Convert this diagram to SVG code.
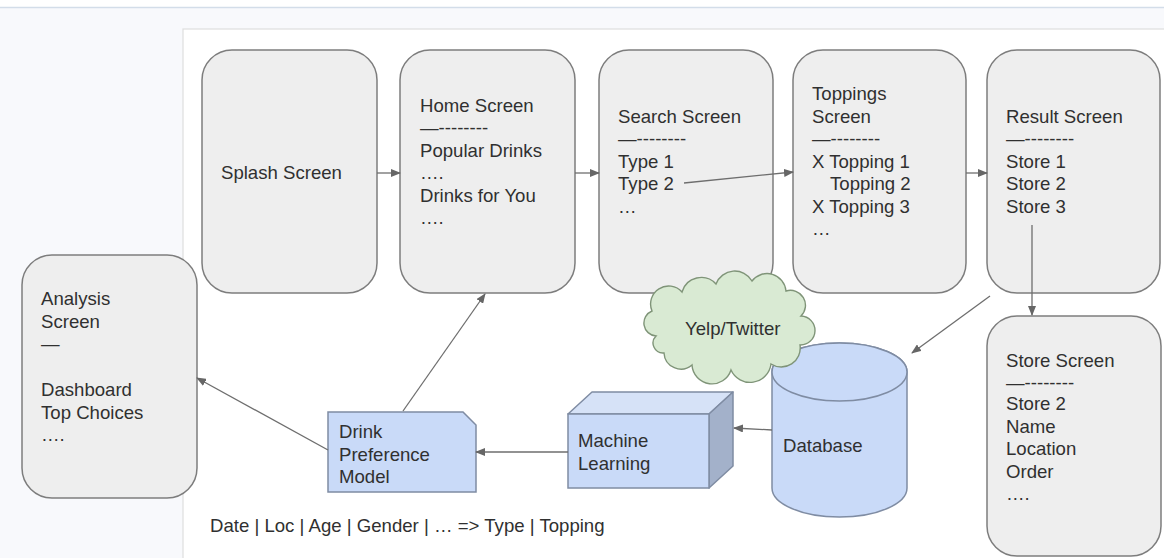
<svg xmlns="http://www.w3.org/2000/svg" width="1164" height="558" viewBox="0 0 1164 558">
  <style>
    .t { font-family: "Liberation Sans", Arial, sans-serif; font-size: 18.6px; fill: #303030; }
    .screen { fill: #eeeeee; stroke: #7d7d7d; stroke-width: 1.5; }
    .blue { fill: #c9daf8; stroke: #7f8ca3; stroke-width: 1.5; }
    .edge { fill: none; stroke: #6e6e6e; stroke-width: 1.3; marker-end: url(#arrow); }
  </style>
  <defs>
    <marker id="arrow" viewBox="0 0 10 8" refX="9" refY="4" markerWidth="10" markerHeight="8" markerUnits="userSpaceOnUse" orient="auto">
      <path d="M0,0 L10,4 L0,8 Z" fill="#666666"/>
    </marker>
  </defs>

  <!-- page background and canvas -->
  <rect x="0" y="0" width="1164" height="558" fill="#f8f9fc"/>
  <rect x="0" y="0" width="1164" height="7" fill="#ffffff"/>
  <line x1="0" y1="7.5" x2="1164" y2="7.5" stroke="#d3dde9" stroke-width="1.5"/>
  <rect x="183" y="29" width="990" height="540" fill="#ffffff" stroke="#dedede" stroke-width="1.2"/>

  <!-- screens -->
  <g id="splash">
    <rect class="screen" x="202" y="50" width="175" height="243" rx="30"/>
    <text class="t" x="221" y="179">Splash Screen</text>
  </g>
  <g id="home">
    <rect class="screen" x="400" y="50" width="175" height="243" rx="30"/>
    <text class="t" x="420" y="112">Home Screen</text>
    <text class="t" x="420" y="134">—--------</text>
    <text class="t" x="420" y="157">Popular Drinks</text>
    <text class="t" x="420" y="179">….</text>
    <text class="t" x="420" y="202">Drinks for You</text>
    <text class="t" x="420" y="224">….</text>
  </g>
  <g id="search">
    <rect class="screen" x="599" y="50" width="174" height="243" rx="30"/>
    <text class="t" x="618" y="123">Search Screen</text>
    <text class="t" x="618" y="145">—--------</text>
    <text class="t" x="618" y="168">Type 1</text>
    <text class="t" x="618" y="190">Type 2</text>
    <text class="t" x="618" y="213">…</text>
  </g>
  <g id="toppings">
    <rect class="screen" x="793" y="50" width="173" height="243" rx="30"/>
    <text class="t" x="812" y="100">Toppings</text>
    <text class="t" x="812" y="123">Screen</text>
    <text class="t" x="812" y="145">—--------</text>
    <text class="t" x="812" y="168">X Topping 1</text>
    <text class="t" x="830" y="190">Topping 2</text>
    <text class="t" x="812" y="213">X Topping 3</text>
    <text class="t" x="812" y="235">…</text>
  </g>
  <g id="result">
    <rect class="screen" x="987" y="50" width="173" height="243" rx="30"/>
    <text class="t" x="1006" y="123">Result Screen</text>
    <text class="t" x="1006" y="145">—--------</text>
    <text class="t" x="1006" y="168">Store 1</text>
    <text class="t" x="1006" y="190">Store 2</text>
    <text class="t" x="1006" y="213">Store 3</text>
  </g>
  <g id="store">
    <rect class="screen" x="987" y="316" width="174" height="240" rx="30"/>
    <text class="t" x="1006" y="367">Store Screen</text>
    <text class="t" x="1006" y="389">—--------</text>
    <text class="t" x="1006" y="410">Store 2</text>
    <text class="t" x="1006" y="433">Name</text>
    <text class="t" x="1006" y="455">Location</text>
    <text class="t" x="1006" y="478">Order</text>
    <text class="t" x="1006" y="500">….</text>
  </g>
  <g id="analysis">
    <rect class="screen" x="22" y="255" width="175" height="243" rx="30"/>
    <text class="t" x="41" y="305">Analysis</text>
    <text class="t" x="41" y="328">Screen</text>
    <text class="t" x="41" y="350">—</text>
    <text class="t" x="41" y="396">Dashboard</text>
    <text class="t" x="41" y="419">Top Choices</text>
    <text class="t" x="41" y="441">….</text>
  </g>

  <!-- data and model -->
  <g id="model">
    <path class="blue" d="M328,412 L463,412 L476,425 L476,492 L328,492 Z"/>
    <text class="t" x="339" y="438">Drink</text>
    <text class="t" x="339" y="461">Preference</text>
    <text class="t" x="339" y="483">Model</text>
  </g>
  <g id="ml">
    <path d="M568,414 L592,392 L733,392 L709,414 Z" fill="#d6e2f7" stroke="#7f8ca3" stroke-width="1.5" stroke-linejoin="round"/>
    <path d="M709,414 L733,392 L733,466 L709,488 Z" fill="#a3b1ca" stroke="#7f8ca3" stroke-width="1.5" stroke-linejoin="round"/>
    <rect class="blue" x="568" y="414" width="141" height="74"/>
    <text class="t" x="578" y="447">Machine</text>
    <text class="t" x="578" y="470">Learning</text>
  </g>
  <g id="database">
    <path class="blue" d="M772,372 L772,488 A67.5,29 0 0 0 907,488 L907,372 A67.5,29 0 0 0 772,372 Z"/>
    <ellipse class="blue" cx="839.5" cy="372" rx="67.5" ry="29"/>
    <text class="t" x="783" y="452">Database</text>
  </g>
  <g id="cloud">
    <path d="M656,336 A13,13 0 0 1 652,311 A18,18 0 0 1 682,292 A20,20 0 0 1 716,284 A20,20 0 0 1 752,281 A19,19 0 0 1 786,291 A15,15 0 0 1 801,316 A13,13 0 0 1 800,345 A19,19 0 0 1 771,364 A21,21 0 0 1 731,370 A20,20 0 0 1 692,365 A17,17 0 0 1 664,353 A10,10 0 0 1 656,336 Z" fill="#d9ead3" stroke="#7f9478" stroke-width="1.4"/>
    <text class="t" x="685" y="335">Yelp/Twitter</text>
  </g>

  <!-- connectors -->
  <g id="connectors">
    <line class="edge" x1="377" y1="173" x2="400" y2="173"/>
    <line class="edge" x1="575" y1="173" x2="599" y2="173"/>
    <line class="edge" x1="684" y1="183" x2="793" y2="172"/>
    <line class="edge" x1="966" y1="173" x2="987" y2="173"/>
    <line class="edge" x1="1032" y1="225" x2="1032" y2="315"/>
    <line class="edge" x1="990" y1="296" x2="912" y2="353"/>
    <line class="edge" x1="772" y1="430" x2="734" y2="428"/>
    <line class="edge" x1="568" y1="452" x2="476" y2="452"/>
    <line class="edge" x1="403" y1="411" x2="485" y2="294"/>
    <line class="edge" x1="328" y1="450" x2="197" y2="378"/>
  </g>

  <text class="t" x="210" y="532">Date | Loc | Age | Gender | … =&gt; Type | Topping</text>
</svg>
